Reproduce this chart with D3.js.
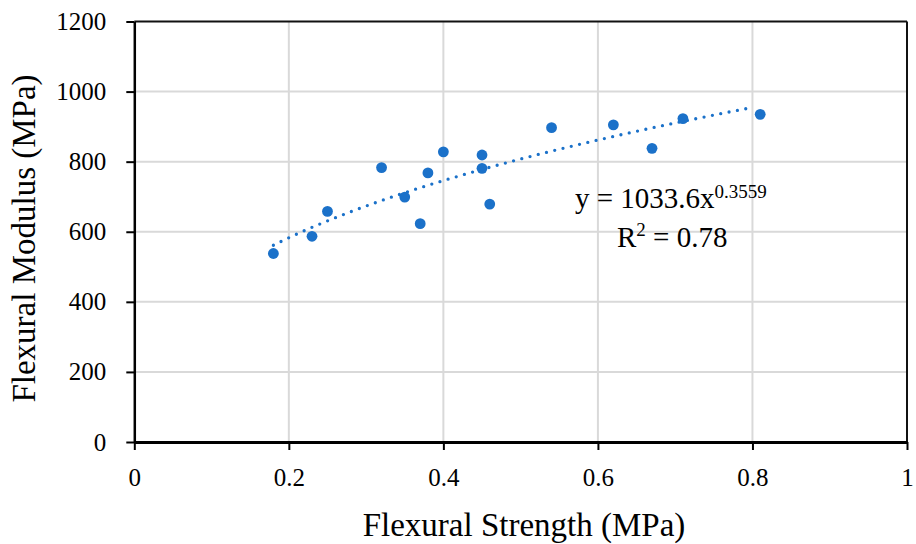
<!DOCTYPE html>
<html>
<head>
<meta charset="utf-8">
<script src="https://cdn.jsdelivr.net/npm/d3@7"></script>
<style>
  html, body { margin: 0; padding: 0; background: #fff; }
  svg { display: block; }
  svg text { font-family: "Liberation Serif", "Times New Roman", serif !important; fill: #000; }
</style>
</head>
<body>
<svg id="chart" width="916" height="544"></svg>
<script>
// Flexural strength (MPa) vs. flexural modulus (MPa)
const strength = [0.18, 0.23, 0.25, 0.32, 0.35, 0.37, 0.38, 0.40, 0.45, 0.45, 0.46, 0.54, 0.62, 0.67, 0.71, 0.81];
const modulus  = [538, 587, 658, 783, 699, 623, 768, 828, 819, 781, 679, 897, 905, 838, 923, 935];

// Power trendline y = a * x^b
const trendA = 1033.6;
const trendB = 0.3559;
const trendR2 = 0.78;
const trendRange = [0.18, 0.8];

const xTicks = [0, 0.2, 0.4, 0.6, 0.8, 1];
const yTicks = [0, 200, 400, 600, 800, 1000, 1200];

const svg = d3.select("#chart");
const plotLeft = 134.3, plotRight = 907, plotTop = 21.5, plotBottom = 442;
const serif = '"Liberation Serif", "Times New Roman", serif';

const x = d3.scaleLinear().domain([0, 1]).range([plotLeft, plotRight]);
const y = d3.scaleLinear().domain([0, 1200]).range([plotBottom, plotTop]);

const blue = "#1b71c9";

// grid
svg.append("g").selectAll("line").data(xTicks.filter(d => d > 0 && d < 1)).join("line")
  .attr("x1", d => x(d)).attr("x2", d => x(d)).attr("y1", plotTop).attr("y2", plotBottom)
  .attr("stroke", "#d9d9d9").attr("stroke-width", 2);
svg.append("g").selectAll("line").data(yTicks.filter(d => d > 0 && d < 1200)).join("line")
  .attr("x1", plotLeft).attr("x2", plotRight).attr("y1", d => y(d)).attr("y2", d => y(d))
  .attr("stroke", "#d9d9d9").attr("stroke-width", 2);

// frame (top / right)
svg.append("line").attr("x1", plotLeft).attr("x2", plotRight).attr("y1", plotTop).attr("y2", plotTop)
  .attr("stroke", "#111").attr("stroke-width", 2);
svg.append("line").attr("x1", plotRight).attr("x2", plotRight).attr("y1", plotTop).attr("y2", plotBottom)
  .attr("stroke", "#111").attr("stroke-width", 2);

// axes
const xAxis = d3.axisBottom(x).tickValues(xTicks)
  .tickFormat(d => d === 0 || d === 1 ? d3.format("d")(d) : d3.format(".1f")(d))
  .tickSizeInner(8).tickSizeOuter(0).tickPadding(18);
const gx = svg.append("g").attr("transform", `translate(0,${plotBottom})`).call(xAxis)
  .attr("font-family", serif).attr("font-size", 25);
gx.select(".domain").attr("stroke", "#000").attr("stroke-width", 3);
gx.selectAll(".tick line").attr("stroke", "#000").attr("stroke-width", 2);
gx.selectAll(".tick text").style("font-family", serif).style("font-size", "25px").attr("fill", "#000");

const yAxis = d3.axisLeft(y).tickValues(yTicks).tickFormat(d3.format("d"))
  .tickSizeInner(8).tickSizeOuter(0).tickPadding(20);
const gy = svg.append("g").attr("transform", `translate(${plotLeft},0)`).call(yAxis)
  .attr("font-family", serif).attr("font-size", 25);
gy.select(".domain").attr("stroke", "#000").attr("stroke-width", 2.5);
gy.selectAll(".tick line").attr("stroke", "#000").attr("stroke-width", 2);
gy.selectAll(".tick text").style("font-family", serif).style("font-size", "25px").attr("fill", "#000");

// trendline
const tx = d3.range(0, 201).map(i => trendRange[0] + (trendRange[1] - trendRange[0]) * i / 200);
const trend = d3.line().x(d => x(d)).y(d => y(trendA * Math.pow(d, trendB)));
svg.append("path").datum(tx).attr("d", trend)
  .attr("fill", "none").attr("stroke", blue).attr("stroke-width", 3.3)
  .attr("stroke-linecap", "round").attr("stroke-dasharray", "0 8.5");

// points
svg.append("g").selectAll("circle").data(strength.map((s, i) => [s, modulus[i]])).join("circle")
  .attr("cx", d => x(d[0])).attr("cy", d => y(d[1])).attr("r", 5.4).attr("fill", blue);

// equation
const eq = svg.append("text").attr("x", 575).attr("y", 208).style("font-size", "29px");
eq.append("tspan").text(`y = ${trendA}x`);
eq.append("tspan").style("font-size", "19px").attr("dy", -10).text(trendB);
const r2 = svg.append("text").attr("x", 617).attr("y", 246.5).style("font-size", "29px");
r2.append("tspan").text("R");
r2.append("tspan").style("font-size", "19px").attr("dy", -11).text("2");
r2.append("tspan").attr("dy", 11).text(` = ${trendR2}`);

// axis titles
svg.append("text").attr("x", (363 + 685) / 2).attr("y", 536).attr("text-anchor", "middle")
  .style("font-size", "33px").text("Flexural Strength (MPa)");
svg.append("text").attr("transform", "translate(35,238.5) rotate(-90)").attr("text-anchor", "middle")
  .style("font-size", "33px").text("Flexural Modulus (MPa)");
</script>
</body>
</html>
